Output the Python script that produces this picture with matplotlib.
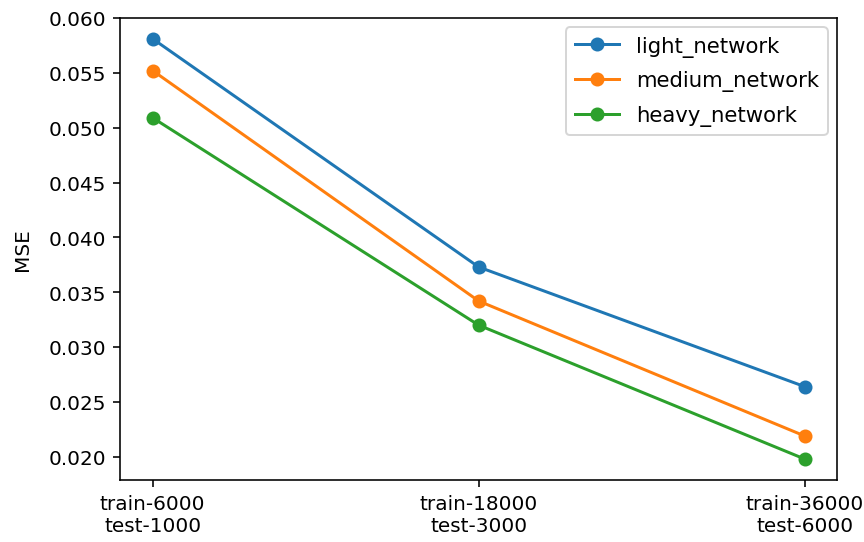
import matplotlib
matplotlib.use("Agg")
import matplotlib.pyplot as plt

categories = ["train-6000\ntest-1000", "train-18000\ntest-3000", "train-36000\ntest-6000"]
light_network = [0.0581, 0.0373, 0.0264]
medium_network = [0.0552, 0.0342, 0.0219]
heavy_network = [0.0509, 0.0320, 0.0198]

fig = plt.figure(figsize=(6.0, 3.77), dpi=144)
ax = fig.add_axes([0.139, 0.1142, 0.830, 0.8514])

x = range(len(categories))
ax.plot(x, light_network, marker="o", label="light_network")
ax.plot(x, medium_network, marker="o", label="medium_network")
ax.plot(x, heavy_network, marker="o", label="heavy_network")

ax.set_xticks(list(x))
ax.set_xticklabels(categories)
ax.set_ylabel("MSE", labelpad=8)
ax.legend(loc="upper right", fontsize=10.6, labelspacing=0.65,
          handlelength=2.1, borderaxespad=0.45)

fig.savefig("out.png", dpi=144)
